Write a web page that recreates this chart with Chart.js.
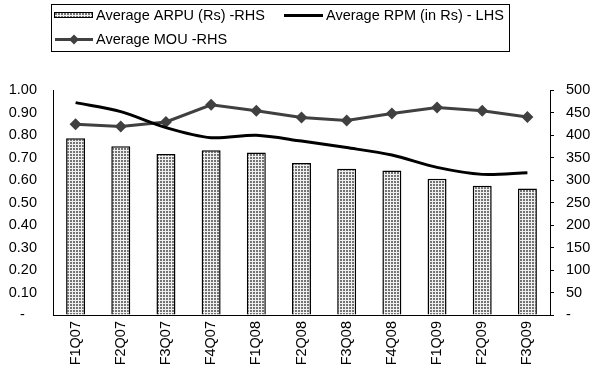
<!DOCTYPE html>
<html>
<head>
<meta charset="utf-8">
<script src="https://cdn.jsdelivr.net/npm/chart.js@4"></script>
<style>
  html, body { margin: 0; padding: 0; background: #fff; }
  #wrap { width: 591px; height: 370px; }
</style>
</head>
<body>
<div id="wrap"><canvas id="grafico" width="591" height="370"></canvas></div>
<script>
// Datos
const trimestres = ['F1Q07', 'F2Q07', 'F3Q07', 'F4Q07', 'F1Q08', 'F2Q08', 'F3Q08', 'F4Q08', 'F1Q09', 'F2Q09', 'F3Q09'];
const arpu = [393, 375, 358, 366, 361, 338, 325, 321, 303, 287, 281];
const rpm = [0.944, 0.904, 0.833, 0.788, 0.799, 0.773, 0.744, 0.711, 0.656, 0.625, 0.632];
const mou = [424, 419, 429, 467, 454, 439, 432, 448, 461, 454, 440];

const etiquetas = {
    arpu: 'Average ARPU (Rs) -RHS',
    rpm: 'Average RPM (in Rs) - LHS',
    mou: 'Average MOU -RHS'
};

const FAMILIA = '"Liberation Sans", Arial, sans-serif';
const TAM = 14.5;
const GRIS_MOU = '#404040';

// Patron punteado para las barras
function crearPatron() {
    const c = document.createElement('canvas');
    c.width = 3;
    c.height = 3;
    const g = c.getContext('2d');
    g.fillStyle = '#f0f0f0';
    g.fillRect(0, 0, 3, 3);
    g.fillStyle = '#747474';
    g.fillRect(1, 1, 2, 2);
    return g.createPattern(c, 'repeat');
}

const ctx = document.getElementById('grafico').getContext('2d');
const patron = crearPatron();

function rombo(g, x, y, r) {
    g.beginPath();
    g.moveTo(x, y - r);
    g.lineTo(x + r, y);
    g.lineTo(x, y + r);
    g.lineTo(x - r, y);
    g.closePath();
    g.fill();
}

// Leyenda dibujada a mano, con su recuadro
const leyendaPlugin = {
    id: 'leyendaRecuadro',
    afterDraw(chart) {
        const g = chart.ctx;
        g.save();
        g.strokeStyle = '#000';
        g.lineWidth = 1;
        g.strokeRect(51.5, 4.5, 458, 47);

        g.font = TAM + 'px ' + FAMILIA;
        g.fillStyle = '#000';
        g.textBaseline = 'middle';
        g.textAlign = 'left';

        // ARPU
        g.fillStyle = patron;
        g.fillRect(54, 12, 39, 6);
        g.strokeRect(54.5, 12.5, 38, 5);
        g.fillStyle = '#000';
        g.fillText(etiquetas.arpu, 96, 16);

        // RPM
        g.lineWidth = 3;
        g.beginPath();
        g.moveTo(284, 15.5);
        g.lineTo(323, 15.5);
        g.stroke();
        g.fillText(etiquetas.rpm, 326, 16);

        // MOU
        g.strokeStyle = GRIS_MOU;
        g.beginPath();
        g.moveTo(55, 39.5);
        g.lineTo(93, 39.5);
        g.stroke();
        g.fillStyle = GRIS_MOU;
        rombo(g, 74, 39.5, 5);
        g.fillStyle = '#000';
        g.fillText(etiquetas.mou, 96, 40);
        g.restore();
    }
};

new Chart(ctx, {
    type: 'bar',
    data: {
        labels: trimestres,
        datasets: [
            {
                type: 'line',
                label: etiquetas.rpm,
                data: rpm,
                yAxisID: 'yIzq',
                borderColor: '#000',
                borderWidth: 3,
                pointRadius: 0,
                tension: 0.3,
                order: 1
            },
            {
                type: 'line',
                label: etiquetas.mou,
                data: mou,
                yAxisID: 'yDer',
                borderColor: GRIS_MOU,
                backgroundColor: GRIS_MOU,
                borderWidth: 3,
                pointStyle: 'rectRot',
                pointRadius: 6,
                pointBorderWidth: 0,
                tension: 0,
                order: 2
            },
            {
                label: etiquetas.arpu,
                data: arpu,
                yAxisID: 'yDer',
                backgroundColor: patron,
                borderColor: '#000',
                borderWidth: 1.5,
                barPercentage: 0.42,
                categoryPercentage: 1,
                order: 3
            }
        ]
    },
    options: {
        responsive: false,
        animation: false,
        layout: { padding: { top: 90, left: 0, right: 0, bottom: 0 } },
        plugins: {
            legend: { display: false },
            tooltip: { enabled: false }
        },
        scales: {
            x: {
                offset: true,
                grid: { display: false, drawTicks: false },
                border: { display: true, color: '#000', width: 1 },
                ticks: {
                    minRotation: 90,
                    maxRotation: 90,
                    padding: 6,
                    color: '#000',
                    font: { family: FAMILIA, size: TAM }
                },
                afterFit: (s) => { s.height = 55; }
            },
            yIzq: {
                position: 'left',
                min: 0,
                max: 1,
                grid: { display: false, drawTicks: false },
                border: { display: true, color: '#000', width: 1 },
                ticks: {
                    stepSize: 0.1,
                    padding: 16,
                    color: '#000',
                    font: { family: FAMILIA, size: TAM },
                    callback: (v) => v === 0 ? '-   ' : v.toFixed(2)
                },
                afterFit: (s) => { s.width = 53; }
            },
            yDer: {
                position: 'right',
                min: 0,
                max: 500,
                grid: { display: true, drawOnChartArea: false, drawTicks: true, tickLength: 4, color: '#000' },
                border: { display: true, color: '#000', width: 1 },
                ticks: {
                    stepSize: 50,
                    padding: 12,
                    color: '#000',
                    font: { family: FAMILIA, size: TAM },
                    callback: (v) => v === 0 ? '-' : v
                },
                afterFit: (s) => { s.width = 41; }
            }
        }
    },
    plugins: [leyendaPlugin]
});
</script>
</body>
</html>
